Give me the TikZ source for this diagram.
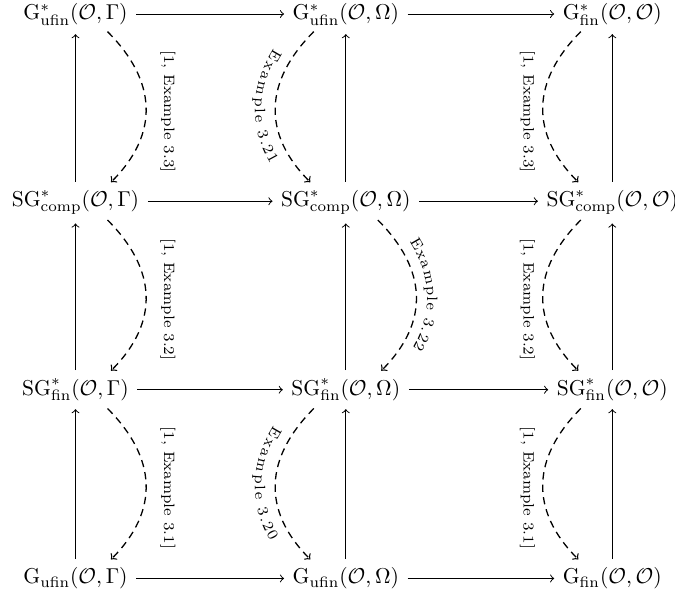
\documentclass[tikz,border=0pt]{standalone}
\usetikzlibrary{calc,decorations.text}
\begin{document}
\begin{tikzpicture}[x=0.465pt,y=0.465pt,
  line width=0.45pt,
  obj/.style={anchor=base, inner xsep=3.8pt, inner ysep=3.8pt},
  mor/.style={->},
  dasharr/.style={line width=0.6pt, dash pattern=on 3.4pt off 2.4pt, ->},
  lab/.style={font=\scriptsize, rotate=-90, inner sep=0pt},
  alongtext/.style 2 args={decorate,decoration={text along path,text={|\scriptsize|#1},text align=center,raise=#2}}
]
\useasboundingbox (0,0) rectangle (675,598);
% nodes
\node[obj] (a1) at (75.5,578.6) {$\mathrm{G}^*_{\mathrm{ufin}}(\mathcal{O},\Gamma)$};
\node[obj] (b1) at (345.8,578.6) {$\mathrm{G}^*_{\mathrm{ufin}}(\mathcal{O},\Omega)$};
\node[obj] (c1) at (612.3,578.6) {$\mathrm{G}^*_{\mathrm{fin}}(\mathcal{O},\mathcal{O})$};
\node[obj] (a2) at (75.5,391.4) {$\mathrm{SG}^*_{\mathrm{comp}}(\mathcal{O},\Gamma)$};
\node[obj] (b2) at (345.8,391.4) {$\mathrm{SG}^*_{\mathrm{comp}}(\mathcal{O},\Omega)$};
\node[obj] (c2) at (612.3,391.4) {$\mathrm{SG}^*_{\mathrm{comp}}(\mathcal{O},\mathcal{O})$};
\node[obj] (a3) at (75.5,202.9) {$\mathrm{SG}^*_{\mathrm{fin}}(\mathcal{O},\Gamma)$};
\node[obj] (b3) at (345.8,202.9) {$\mathrm{SG}^*_{\mathrm{fin}}(\mathcal{O},\Omega)$};
\node[obj] (c3) at (612.3,202.9) {$\mathrm{SG}^*_{\mathrm{fin}}(\mathcal{O},\mathcal{O})$};
\node[obj] (a4) at (75.5,14.2) {$\mathrm{G}_{\mathrm{ufin}}(\mathcal{O},\Gamma)$};
\node[obj] (b4) at (345.8,14.2) {$\mathrm{G}_{\mathrm{ufin}}(\mathcal{O},\Omega)$};
\node[obj] (c4) at (612.3,14.2) {$\mathrm{G}_{\mathrm{fin}}(\mathcal{O},\mathcal{O})$};
% horizontal arrows
\foreach \r in {1,2,3,4}{
  \draw[mor] ([yshift=2.5pt]a\r.base east) -- ([yshift=2.5pt]b\r.base west);
  \draw[mor] ([yshift=2.5pt]b\r.base east) -- ([yshift=2.5pt]c\r.base west);
}
% vertical arrows
\foreach \c in {a,b,c}{
  \draw[mor] (\c2.north) -- (\c1.south);
  \draw[mor] (\c3.north) -- (\c2.south);
  \draw[mor] (\c4.north) -- (\c3.south);
}
% left column dashed curves
\draw[dasharr] ($(a1.base)+(32,-12.2)$) .. controls +(49,-49) and +(49,49) .. ($(a2.base)+(35.5,24.4)$);
\draw[dasharr] ($(a2.base)+(32,-13.4)$) .. controls +(49,-49) and +(49,49) .. ($(a3.base)+(35.5,24.4)$);
\draw[dasharr] ($(a3.base)+(32,-13.4)$) .. controls +(49,-49) and +(49,49) .. ($(a4.base)+(35.5,24.4)$);
\node[lab] (la1) at ($(a1.base)!0.5!(a2.base)+(92.5,1.5)$) {[1, Example 3.3]};
\node[lab] (la2) at ($(a2.base)!0.5!(a3.base)+(92.5,1.5)$) {[1, Example 3.2]};
\node[lab] (la3) at ($(a3.base)!0.5!(a4.base)+(92.5,1.5)$) {[1, Example 3.1]};
% middle column dashed curves
\draw[dasharr] ($(b1.base)+(-32,-12.2)$) .. controls +(-49,-49) and +(-49,49) .. ($(b2.base)+(-35.5,24.4)$);
\path[alongtext={Example 3.21}{-9.5pt}] ($(b1.base)+(-32,-12.2)$) .. controls +(-49,-49) and +(-49,49) .. ($(b2.base)+(-35.5,24.4)$);
\draw[dasharr] ($(b2.base)+(32,-13.4)$) .. controls +(49,-49) and +(49,49) .. ($(b3.base)+(35.5,24.4)$);
\path[alongtext={Example 3.22}{5pt}] ($(b2.base)+(32,-13.4)$) .. controls +(49,-49) and +(49,49) .. ($(b3.base)+(35.5,24.4)$);
\draw[dasharr] ($(b3.base)+(-32,-13.4)$) .. controls +(-49,-49) and +(-49,49) .. ($(b4.base)+(-35.5,24.4)$);
\path[alongtext={Example 3.20}{-9.5pt}] ($(b3.base)+(-32,-13.4)$) .. controls +(-49,-49) and +(-49,49) .. ($(b4.base)+(-35.5,24.4)$);
% right column dashed curves
\draw[dasharr] ($(c1.base)+(-31.5,-12.2)$) .. controls +(-49,-49) and +(-49,49) .. ($(c2.base)+(-34,24.4)$);
\draw[dasharr] ($(c2.base)+(-31.5,-13.4)$) .. controls +(-49,-49) and +(-49,49) .. ($(c3.base)+(-34,24.4)$);
\draw[dasharr] ($(c3.base)+(-31.5,-13.4)$) .. controls +(-49,-49) and +(-49,49) .. ($(c4.base)+(-34,24.4)$);
\node[lab] (lc1) at ($(c1.base)!0.5!(c2.base)+(-85,1.5)$) {[1, Example 3.3]};
\node[lab] (lc2) at ($(c2.base)!0.5!(c3.base)+(-85,1.5)$) {[1, Example 3.2]};
\node[lab] (lc3) at ($(c3.base)!0.5!(c4.base)+(-85,1.5)$) {[1, Example 3.1]};
\end{tikzpicture}
\end{document}
